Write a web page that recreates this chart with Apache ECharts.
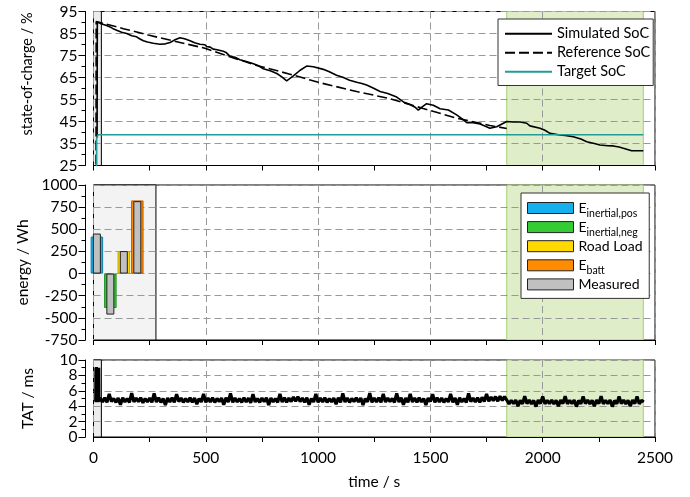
<!DOCTYPE html>
<html><head><meta charset="utf-8">
<script src="https://cdn.jsdelivr.net/npm/echarts@6/dist/echarts.min.js"></script>
<style>html,body{margin:0;padding:0;background:#fff}#c{width:690px;height:497px}</style>
</head><body><div id="c"></div>
<script>
// ---------------- data ----------------
const simSocTime  = [16,17,30,44,55,74,90,103,125,148,170,192,205,222,240,266,296,320,341,360,385,405,430,450,474,495,504,520,533,550,578,590,608,630,652,680,712,735,756,790,816,840,860,890,920,949,979,1023,1050,1082,1110,1140,1172,1195,1216,1245,1276,1310,1350,1380,1409,1430,1446,1465,1483,1513,1543,1580,1617,1640,1662,1690,1721,1745,1765,1795,1825,1840,1869,1900,1929,1943,1988,2010,2032,2077,2100,2136,2170,2196,2230,2255,2290,2314,2340,2359,2396,2420,2448];
const simSocValue = [37.5,90.2,89.6,89.1,88.7,88.0,87.0,86.5,85.6,85.0,84.0,83.5,82.6,81.7,81.1,80.6,80.1,80.3,80.9,82.0,83.1,82.6,81.7,80.8,80.1,79.9,79.1,78.8,77.9,77.6,76.9,76.4,74.6,74.2,73.1,72.3,71.2,70.3,69.0,68.0,66.8,65.2,63.5,65.7,68.3,70.2,69.9,68.7,67.6,66.0,65.1,63.8,62.8,62.3,61.6,60.2,58.6,57.7,56.1,53.9,52.7,51.6,50.2,51.8,53.1,52.4,50.8,50.2,48.0,46.3,44.5,44.4,43.9,42.8,41.9,42.6,44.2,45.0,44.8,44.8,44.2,43.0,41.9,41.0,39.6,38.9,38.7,38.1,37.0,35.8,35.0,34.3,34.0,33.9,33.4,32.8,31.7,31.7,31.7];
const refSocTime  = [11,12,133,244,356,496,623,727,875,1001,1172,1320,1468,1617,1765,1840];
const refSocValue = [0,90.5,87.2,84.3,81.6,78.3,73.9,70.5,66.5,62.8,58.6,55.4,50.9,46.5,43.2,41.8];
const targetSocTime  = [14,14,21,21,2448];
const targetSocValue = [0,37.5,37.5,39,39];

const energyNames    = ['Einertial,pos','Einertial,neg','Road Load','Ebatt'];
const energyCenters  = [15,75,135,195];
const energyModel    = [418,-389,254,826];
const energyMeasured = [452,-463,254,818];

const tatStartTime  = [10,11,12,13,14,15,16,17,18,19,20,21,22,23,24,25,26,27,28,29];
const tatStartValue = [4.6,9.0,4.5,9.1,4.6,9.0,4.5,9.0,4.6,9.0,4.5,8.9,4.6,9.0,4.7,5.2,4.6,5.0,4.7,4.9];
const tatMainStart = 30, tatMainStep = 10;
const tatMainValue = [
5.05,4.55,5.10,4.50,5.60,4.60,5.00,4.50,5.05,4.20,5.10,4.55,5.00,4.50,5.70,4.55,5.05,4.60,5.10,4.45,
5.00,4.55,5.05,4.50,5.65,4.55,5.10,4.50,5.00,4.15,5.05,4.55,5.10,4.50,5.55,4.60,5.05,4.50,5.00,4.55,
5.10,4.50,5.05,4.25,5.00,4.55,5.60,4.50,5.05,4.55,5.10,4.50,5.00,4.60,5.05,4.20,5.10,4.55,5.65,4.50,
5.05,4.55,5.00,4.50,5.10,4.55,5.05,4.45,5.55,4.55,5.00,4.50,5.05,4.60,5.10,4.15,5.05,4.55,5.00,4.50,
5.60,4.55,5.10,4.50,5.05,4.60,5.20,4.65,5.25,4.60,5.05,4.50,5.10,4.20,5.00,4.55,5.60,4.50,5.05,4.55,
5.10,4.50,5.00,4.55,5.05,4.25,5.10,4.50,5.65,4.55,5.05,4.50,5.00,4.60,5.10,4.55,5.05,4.15,5.00,4.55,
5.70,4.50,5.05,4.55,5.10,4.50,5.60,4.55,5.05,4.60,5.00,4.50,5.65,4.55,5.10,4.20,5.05,4.50,5.60,4.55,
5.05,4.50,5.10,4.55,5.00,4.15,5.05,4.60,5.55,4.50,5.10,4.55,5.05,4.50,5.00,4.55,5.60,4.50,5.05,4.20,
5.10,4.55,5.00,4.50,5.65,4.60,5.05,4.55,5.10,4.50,5.15,4.60,5.60,4.65,5.20,4.70,5.25,4.65,5.30,4.75,5.25,
4.80,4.30,4.75,4.35,4.80,4.00,4.75,4.30,5.30,4.35,4.80,4.30,4.75,3.95,4.80,4.35,5.25,4.30,4.75,4.35,
4.80,4.30,4.75,4.00,4.80,4.35,5.30,4.30,4.75,4.35,4.80,3.95,4.75,4.30,5.25,4.35,4.80,4.30,4.75,4.00,
4.80,4.35,5.30,4.30,4.75,4.35,4.80,3.95,4.75,4.30,5.25,4.35,4.80,4.30,4.75,4.00,4.80,4.35,5.25,4.30,
4.75,4.55];

const grayBand  = [0,35];
const energyBox = [0,278];
const greenBand = [1840,2448];

// ---------------- build ----------------
const FONT = 'Lato';
const zip = (a,b) => a.map((v,i)=>[v,b[i]]);
const tatData = zip(tatStartTime, tatStartValue)
  .concat(tatMainValue.map((v,i)=>[tatMainStart + i*tatMainStep, v]));
const plain = v => String(v);

const dash = [7,4];
function xAx(gi, labels, extra){
  return Object.assign({
    type:'value', gridIndex:gi, min:0, max:2500, interval:500, z:1.5,
    axisLine:{show:true,onZero:false,lineStyle:{color:'#000',width:1}},
    axisTick:{show:true,inside:false,length:5,lineStyle:{color:'#000'}},
    minorTick:{show:true,splitNumber:2,length:5,lineStyle:{color:'#000'}},
    axisLabel:{show:labels,fontSize:15.5,color:'#000',fontFamily:FONT,margin:13,formatter:plain,
               showMinLabel:true,showMaxLabel:true,hideOverlap:false},
    splitLine:{show:true,lineStyle:{color:'#999',type:dash,width:1}},
    minorSplitLine:{show:false}
  }, extra||{});
}
function yAx(gi, min, max, interval, name, gap, nameSize, namePad, fmt){
  return {
    type:'value', gridIndex:gi, min, max, interval, z:1.5, offset:8,
    name, nameLocation:'middle', nameGap:gap, nameRotate:90,
    nameTextStyle:{fontSize:nameSize,color:'#000',fontFamily:FONT,padding:namePad||0},
    axisLine:{show:true,onZero:false,lineStyle:{color:'#000',width:1}},
    axisTick:{show:true,inside:false,length:7,lineStyle:{color:'#000'}},
    minorTick:{show:true,splitNumber:2,length:4,lineStyle:{color:'#000'}},
    axisLabel:{fontSize:15.5,color:'#000',fontFamily:FONT,margin:8,formatter:fmt||plain,
               showMinLabel:true,showMaxLabel:true,hideOverlap:false},
    splitLine:{show:true,lineStyle:{color:'#999',type:dash,width:1}},
    minorSplitLine:{show:false}
  };
}
// bottom axis: labels split over two co-located axes so none of them is auto-hidden
const tatLabelsA = v => (v % 4 === 2 ? String(v) : '');
const tatLabelsB = v => (v % 4 === 0 ? String(v) : '');
const tatAxisB = {
  type:'value', gridIndex:2, min:0, max:10, interval:2, offset:8, position:'left',
  axisLine:{show:false}, axisTick:{show:false}, splitLine:{show:false},
  axisLabel:{fontSize:15.5,color:'#000',fontFamily:FONT,margin:8,formatter:tatLabelsB,
             showMinLabel:true,showMaxLabel:true,hideOverlap:false}
};

const bandStyle = {color:'#ececec',borderColor:'#000',borderWidth:1};
const greenStyle = {color:'#dfedc8',borderColor:'#a6d170',borderWidth:1};
function areas(first, firstStyle){
  return {silent:true, z:1, data:[
    [{xAxis:first[0], itemStyle:firstStyle},{xAxis:first[1]}],
    [{xAxis:greenBand[0], itemStyle:greenStyle},{xAxis:greenBand[1]}]
  ]};
}

const colors = ['#17b0ee','#33cc33','#ffd800','#ff8c00'];
const borders = ['#0a7fb0','#1f8f1f','#c9a400','#c06000'];
const series = [
  {name:'Simulated SoC', type:'line', xAxisIndex:0, yAxisIndex:0, data:zip(simSocTime,simSocValue),
   showSymbol:false, symbol:'none', lineStyle:{color:'#000',width:1.6}, itemStyle:{color:'#000'},
   markArea:areas(grayBand, bandStyle), z:3},
  {name:'Reference SoC', type:'line', xAxisIndex:0, yAxisIndex:0, data:zip(refSocTime,refSocValue),
   showSymbol:false, symbol:'none', lineStyle:{color:'#000',width:1.6,type:[10,4]}, itemStyle:{color:'#000'}, z:3},
  {name:'Target SoC', type:'line', xAxisIndex:0, yAxisIndex:0, data:zip(targetSocTime,targetSocValue),
   showSymbol:false, symbol:'none', lineStyle:{color:'#239b98',width:1.6}, itemStyle:{color:'#239b98'}, z:3}
];
energyNames.forEach((n,i)=>{
  series.push({name:n, type:'bar', xAxisIndex:1, yAxisIndex:1, barWidth:12.5, barGap:'-100%',
    data:[[energyCenters[i], energyModel[i]]],
    itemStyle:{color:colors[i], borderColor:borders[i], borderWidth:1}, z:3});
});
series.push({name:'Measured', type:'bar', xAxisIndex:3, yAxisIndex:1, barWidth:8,
  data:zip(energyCenters, energyMeasured),
  itemStyle:{color:'#c0c0c0', borderColor:'#222', borderWidth:1}, z:4,
  markArea:areas(energyBox, {color:'#f3f3f3',borderColor:'#000',borderWidth:1})});
series.push({name:'TAT', type:'line', xAxisIndex:2, yAxisIndex:2, data:tatData,
  showSymbol:false, symbol:'none', lineStyle:{color:'#000',width:3.2}, z:3,
  markArea:areas(grayBand, bandStyle)});

const subMap = {'Einertial,pos':'{b|E}{s|inertial,pos}','Einertial,neg':'{b|E}{s|inertial,neg}','Ebatt':'{b|E}{s|batt}'};

const option = {
  animation:false,
  backgroundColor:'#fff',
  textStyle:{fontFamily:FONT},
  grid:[
    {left:93.5,right:35,top:11.5,height:154,show:true,borderColor:'#000',borderWidth:1,backgroundColor:'transparent',outerBoundsMode:'none'},
    {left:93.5,right:35,top:185,height:155,show:true,borderColor:'#000',borderWidth:1,backgroundColor:'transparent',outerBoundsMode:'none'},
    {left:93.5,right:35,top:360,height:77,show:true,borderColor:'#000',borderWidth:1,backgroundColor:'transparent',outerBoundsMode:'none'}
  ],
  xAxis:[
    xAx(0,false), xAx(1,false),
    xAx(2,true,{name:'time / s',nameLocation:'middle',nameGap:37,nameTextStyle:{fontSize:15.5,color:'#000',fontFamily:FONT}}),
    {type:'value',gridIndex:1,min:0,max:2500,show:false,splitLine:{show:false}}
  ],
  yAxis:[
    yAx(0,25,95,10,'state-of-charge / %',51,14.5,[0,0,0,29]),
    yAx(1,-750,1000,250,'energy / Wh',50,15.5),
    yAx(2,0,10,2,'TAT / ms',50,15.5,0,tatLabelsA),
    tatAxisB
  ],
  legend:[
    {data:['Simulated SoC','Reference SoC','Target SoC'], orient:'vertical', left:498, top:19,
     padding:[6,3,5,6], itemGap:1.5, itemWidth:47, itemHeight:14,
     itemStyle:{opacity:0},
     backgroundColor:'#fff', borderColor:'#333', borderWidth:1,
     textStyle:{fontSize:14.5,color:'#000',fontFamily:FONT,lineHeight:17.5}},
    {data:['Einertial,pos','Einertial,neg','Road Load','Ebatt','Measured'], orient:'vertical', left:521, top:193,
     padding:[4,4,3,6], itemGap:-2.9, itemWidth:46, itemHeight:11, icon:'rect',
     backgroundColor:'#fff', borderColor:'#333', borderWidth:1,
     itemStyle:{borderColor:'#222',borderWidth:1},
     formatter:n=>subMap[n]||('{b|'+n+'}{s| }'),
     textStyle:{fontSize:14,color:'#000',fontFamily:FONT,lineHeight:18,
       rich:{b:{fontSize:14,lineHeight:18,fontFamily:FONT,color:'#000'},
             s:{fontSize:10.5,lineHeight:18,fontFamily:FONT,color:'#000',padding:[11,0,0,0]}}}}
  ],
  series
};
const chart = echarts.init(document.getElementById('c'), null, {renderer:'canvas'});
chart.setOption(option);
</script></body></html>
